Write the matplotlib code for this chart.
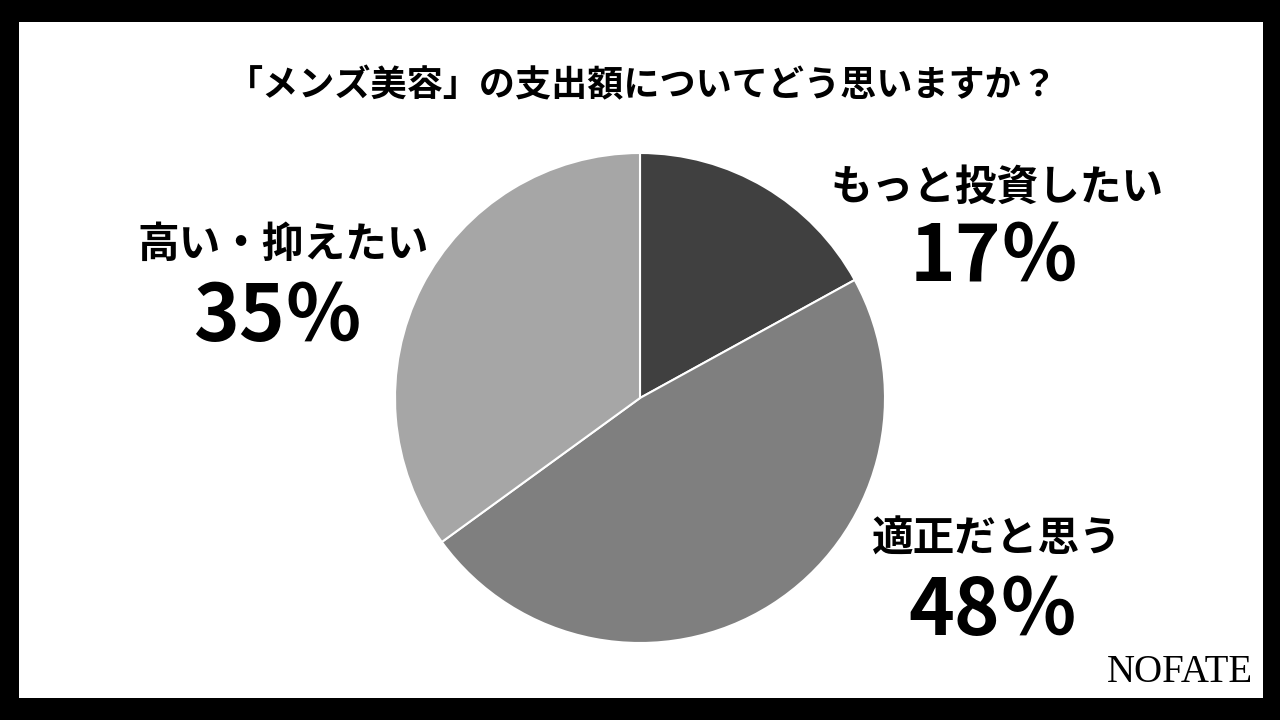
import matplotlib.pyplot as plt
from matplotlib.patches import Rectangle

plt.rcParams['font.family'] = ['Noto Sans CJK JP', 'DejaVu Sans']

# data
title = '「メンズ美容」の支出額についてどう思いますか？'
labels = ['もっと投資したい', '適正だと思う', '高い・抑えたい']
values = [17, 48, 35]
colors = ['#404040', '#7f7f7f', '#a6a6a6']

W, H = 1280, 720
fig = plt.figure(figsize=(12.8, 7.2), dpi=100)
fig.patch.set_facecolor('black')

# white panel inside black frame
fig.patches.append(Rectangle((19 / W, 22 / H), (1263 - 19) / W, (698 - 22) / H,
                             transform=fig.transFigure, facecolor='white',
                             edgecolor='none', zorder=-5))


def fx(px):
    return px / W


def fy(py):
    return 1 - py / H


# pie
cx, cy, r = 640, 398, 245
ax = fig.add_axes([fx(cx - r), fy(cy + r), 2 * r / W, 2 * r / H])
ax.set_zorder(2)
ax.pie(values, colors=colors, startangle=90, counterclock=False,
       wedgeprops=dict(edgecolor='white', linewidth=1.5))
ax.set_xlim(-1, 1)
ax.set_ylim(-1, 1)
ax.set_aspect('equal')
ax.axis('off')

fig.text(fx(642), fy(86), title, ha='center', va='center',
         fontsize=26, fontweight='bold')

# labels with percentages
label_pos = [(997, 188), (997, 540), (283, 245)]
pct_pos = [(994, 258), (993, 612), (278, 318)]
for lab, v, (lx, ly), (px, py) in zip(labels, values, label_pos, pct_pos):
    fig.text(fx(lx), fy(ly), lab, ha='center', va='center',
             fontsize=30, fontweight='bold')
    fig.text(fx(px), fy(py), f'{v}％', ha='center', va='center',
             fontsize=56, fontweight='bold')

fig.text(fx(1180), fy(672), 'NOFATE', ha='center', va='center',
         fontsize=28, family='Liberation Serif')

fig.savefig('out.png', dpi=100, facecolor=fig.get_facecolor())
